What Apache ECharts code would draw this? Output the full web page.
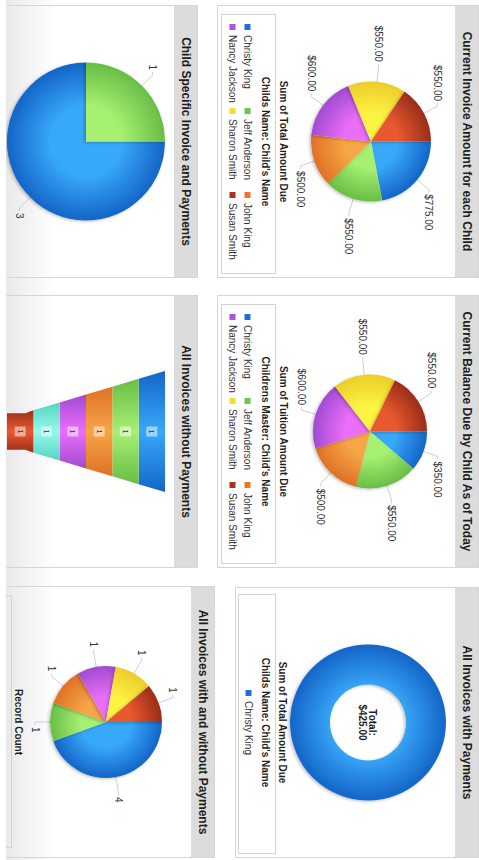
<!DOCTYPE html>
<html>
<head>
<meta charset="utf-8">
<script src="https://cdn.jsdelivr.net/npm/echarts@6/dist/echarts.min.js"></script>
<style>
html,body{margin:0;padding:0;background:#fff;width:479px;height:860px;overflow:hidden;}
#stage{position:absolute;left:0;top:0;width:860px;height:473px;overflow:hidden;
  transform-origin:0 0;transform:translate(479px,0) rotate(90deg);
  background:linear-gradient(to bottom,#ffffff 0px,#ffffff 425px,#e9e9e9 473px);
  font-family:'Liberation Sans',Arial,Helvetica,sans-serif;}
.panel{position:absolute;box-sizing:border-box;border:1px solid #d6d6d6;}
.panel.top{background:#fff;}
.hdr{height:23px;line-height:23px;background:#dcdcdc;text-align:center;font-weight:bold;font-size:12px;color:#1e1e1e;white-space:nowrap;}
.body{position:relative;width:100%;}
</style>
</head>
<body>
<div id="stage">
  <div class="panel top" style="left:5px;top:0;width:273px;height:262px"><div class="hdr" id="h1"></div><div class="body" id="c1" style="height:237px"></div></div>
  <div class="panel top" style="left:295px;top:0;width:273px;height:262px"><div class="hdr" id="h2"></div><div class="body" id="c2" style="height:237px"></div></div>
  <div class="panel top" style="left:587px;top:0;width:271px;height:244px"><div class="hdr" id="h3"></div><div class="body" id="c3" style="height:219px"></div></div>
  <div class="panel" style="left:5px;top:281px;width:273px;height:230px"><div class="hdr" id="h4"></div><div class="body" id="c4" style="height:200px"></div></div>
  <div class="panel" style="left:295px;top:281px;width:273px;height:230px"><div class="hdr" id="h5"></div><div class="body" id="c5" style="height:200px"></div></div>
  <div class="panel" style="left:586px;top:264px;width:272px;height:230px"><div class="hdr" id="h6"></div><div class="body" id="c6" style="height:200px"></div></div>
</div>
<script>
// ---------- DATA ----------
const panelTitles = [
  'Current Invoice Amount for each Child',
  'Current Balance Due by Child As of Today',
  'All Invoices with Payments',
  'Child Specific Invoice and Payments',
  'All Invoices without Payments',
  'All Invoices with and without Payments'
];
const childNames = ['Christy King','Jeff Anderson','John King','Nancy Jackson','Sharon Smith','Susan Smith'];
const invoiceAmounts = [775, 550, 500, 600, 550, 550];
const balanceDue = [350, 550, 500, 600, 550, 550];
const paymentNames = ['Christy King'];
const paymentAmounts = [425];
const childSpecificNames = ['Christy King','Jeff Anderson'];
const childSpecificCounts = [3, 1];
const noPaymentNames = ['Christy King','Jeff Anderson','John King','Nancy Jackson','Sharon Smith','Susan Smith'];
const noPaymentCounts = [1, 1, 1, 1, 1, 1];
const allInvoiceNames = ['Christy King','Jeff Anderson','John King','Nancy Jackson','Sharon Smith','Susan Smith'];
const allInvoiceCounts = [4, 1, 1, 1, 1, 1];
const valueTitles = ['Sum of Total Amount Due','Sum of Tuition Amount Due','Sum of Total Amount Due','Record Count'];
const legendTitles = ["Childs Name: Child's Name","Childrens Master: Child's Name","Childs Name: Child's Name"];

// ---------- STYLE ----------
const FONT = "'Liberation Sans', Arial, Helvetica, sans-serif";
const SHADES = {
  blue:['#38a8f8','#1465c8'], green:['#a6f072','#69bd46'], orange:['#f6a546','#df7126'],
  purple:['#ea6ef7','#a14bd3'], yellow:['#fcf442','#edcd2b'], red:['#e9592f','#9a2d19'],
  cyan:['#98f8ea','#55d4c2']
};
const FLAT = {blue:'#1c70d4',green:'#70c64c',orange:'#e9782c',purple:'#b150dc',yellow:'#f3dc34',red:'#a8341e',cyan:'#62dccb'};
const childColor = {'Christy King':'blue','Jeff Anderson':'green','John King':'orange','Nancy Jackson':'purple','Sharon Smith':'yellow','Susan Smith':'red'};
const funnelColors = ['blue','green','orange','purple','cyan','red'];

panelTitles.forEach((t,i)=>{document.getElementById('h'+(i+1)).textContent=t;});

function radial(cx, cy, r, key){
  return new echarts.graphic.RadialGradient(cx, cy, r, [
    {offset:0, color:SHADES[key][0]}, {offset:0.45, color:SHADES[key][0]}, {offset:1, color:SHADES[key][1]}], true);
}
function money(v){ return '$' + v.toFixed(2).replace(/\B(?=(\d{3})+(?!\d))/g, ','); }

function pieSeries(names, values, cx, cy, r, fmt, inner){
  return {
    type:'pie', center:[cx, cy], radius: inner ? [inner, r] : [0, r],
    startAngle:90, clockwise:true, animation:false,
    data: names.map((n,i)=>({name:n, value:values[i],
      itemStyle:{color: radial(cx, cy, r, childColor[n]), shadowBlur:3, shadowOffsetX:1, shadowOffsetY:1.5, shadowColor:'rgba(0,0,0,0.25)'}})),
    label: inner ? {show:false} : {show:true, formatter:p=>fmt(p.value), color:'#333', fontSize:10, fontFamily:FONT, distanceToLabelLine:2},
    labelLine:{show:!inner, length:15, length2:3, lineStyle:{color:'#cfcfcf', width:1}},
    emphasis:{disabled:true}
  };
}
function textG(x, y, text, size, bold){
  return {type:'text', x:x, y:y, silent:true, style:{text:text, fill:'#1e1e1e', font:(bold?'bold ':'')+size+'px '+FONT, textAlign:'center', textVerticalAlign:'middle'}};
}
function boxG(x, y, w, h){
  return {type:'rect', silent:true, shape:{x:x, y:y, width:w, height:h}, style:{fill:'none', stroke:'#d2d2d2', lineWidth:1}};
}
function legendFor(names, left, top, colW){
  return {
    left:left, top:top, orient:'horizontal', width:260, padding:0, itemGap:0,
    itemWidth:6, itemHeight:6, icon:'rect', selectedMode:false,
    data: names.map(n=>({name:n, itemStyle:{color:FLAT[childColor[n]]}})),
    textStyle:{fontSize:10, color:'#333', fontFamily:FONT, width:colW, lineHeight:15, overflow:'truncate'}
  };
}
function init(id){ return echarts.init(document.getElementById(id), null, {renderer:'svg'}); }

// Panel 1
(function(){
  const c = init('c1'); const W = c.getWidth(); const cx = W/2;
  c.setOption({animation:false,
    legend: legendFor(childNames, 18, 200, 73),
    graphic:[textG(cx, 172, valueTitles[0], 10, true), boxG(8.5, 179.5, 259, 54), textG(cx, 190, legendTitles[0], 10, true)],
    series:[pieSeries(childNames, invoiceAmounts, cx, 84, 60, money)]});
})();
// Panel 2
(function(){
  const c = init('c2'); const W = c.getWidth(); const cx = W/2;
  c.setOption({animation:false,
    legend: legendFor(childNames, 18, 200, 73),
    graphic:[textG(cx, 172, valueTitles[1], 10, true), boxG(8.5, 179.5, 259, 54), textG(cx, 190, legendTitles[1], 10, true)],
    series:[pieSeries(childNames, balanceDue, cx, 85, 57, money)]});
})();
// Panel 3
(function(){
  const c = init('c3'); const W = c.getWidth(); const cx = W/2;
  const total = paymentAmounts.reduce((a,b)=>a+b,0);
  const leg = legendFor(paymentNames, 'center', 199, null);
  leg.textStyle.width = undefined; leg.textStyle.overflow = 'none';
  c.setOption({animation:false,
    legend: leg,
    graphic:[textG(cx, 173, valueTitles[2], 10, true), boxG(6.5, 179.5, 259, 37), textG(cx, 190, legendTitles[2], 10, true),
      textG(cx, 83, 'Total:', 10, true), textG(cx, 93, money(total), 10, true)],
    series:[pieSeries(paymentNames, paymentAmounts, cx, 87, 78, money, 38)]});
})();
// Panel 4
(function(){
  const c = init('c4'); const W = c.getWidth(); const cx = W/2;
  c.setOption({animation:false,
    series:[pieSeries(childSpecificNames, childSpecificCounts, cx, 88, 79, v=>String(v))]});
})();
// Panel 5 (funnel with fixed cone outline, segment heights from counts)
(function(){
  const c = init('c5'); const W = c.getWidth();
  const total = noPaymentCounts.reduce((a,b)=>a+b,0);
  let cum = 0;
  const segs = noPaymentNames.map((n,i)=>{ const s = cum; cum += noPaymentCounts[i]; return {name:n, value:[s, cum, noPaymentCounts[i]]}; });
  const TAPER = 0.78, NECK = 0.30, TOPW = 121;
  const hw = f => 1 - TAPER*f;
  c.setOption({animation:false,
    grid:{left:(W-TOPW)/2, top:9, width:TOPW, height:158},
    xAxis:{type:'value', min:-1, max:1, show:false},
    yAxis:{type:'value', min:0, max:total, inverse:true, show:false},
    series:[{type:'custom', data:segs, renderItem:function(params, api){
      const s = api.value(0), e = api.value(1), v = api.value(2);
      let pts;
      if (params.dataIndex < segs.length-1){
        const a = hw(s/total), b = hw(e/total);
        pts = [[-a,s],[a,s],[b,e],[-b,e]];
      } else {
        const a = hw(s/total), m = s + (e-s)*0.3;
        pts = [[-a,s],[a,s],[NECK,m],[NECK,e],[-NECK,e],[-NECK,m]];
      }
      const key = funnelColors[params.dataIndex];
      return {type:'polygon', shape:{points:pts.map(p=>api.coord(p))},
        style:{fill:new echarts.graphic.LinearGradient(0,0,1,0,[{offset:0,color:SHADES[key][1]},{offset:0.5,color:SHADES[key][0]},{offset:1,color:SHADES[key][1]}])},
        textContent:{style:{text:String(v), fontSize:7, fontFamily:FONT, fill:'#333', backgroundColor:'rgba(255,255,255,0.5)', padding:[2,3]}},
        textConfig:{position:'inside'}};
    }}]});
})();
// Panel 6
(function(){
  const c = init('c6'); const W = c.getWidth(); const cx = W/2;
  c.setOption({animation:false,
    graphic:[textG(cx, 173, valueTitles[3], 10, true), boxG(8.5, 179.5, 252, 40)],
    series:[pieSeries(allInvoiceNames, allInvoiceCounts, cx, 85, 56, v=>String(v))]});
})();
</script>
</body>
</html>
